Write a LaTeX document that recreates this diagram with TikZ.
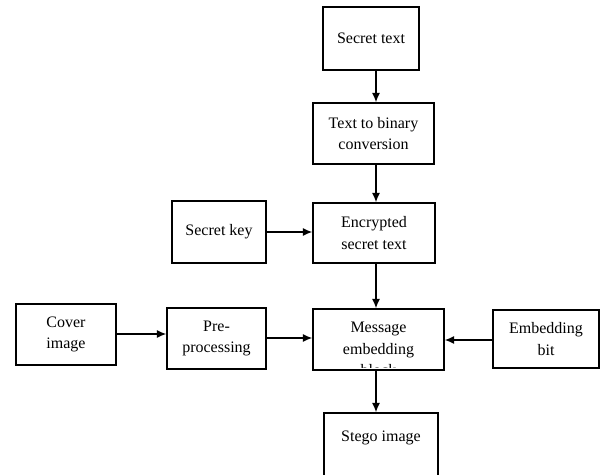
\documentclass[tikz,border=0pt]{standalone}
\usepackage{fontspec}
\setmainfont{Liberation Serif}
\usetikzlibrary{arrows.meta}
\begin{document}
\begin{tikzpicture}[x=0.75pt,y=-0.75pt,
  box/.style={draw,line width=1.2pt,inner sep=0pt,align=center,font=\fontsize{12}{16}\selectfont},
  lbl/.style={inner sep=0pt,align=center,font=\fontsize{12}{16}\selectfont},
  conn/.style={line width=0.9pt,-{Latex[length=7pt,width=6pt]}}]
\useasboundingbox (0,0) rectangle (602,474);
\begin{scope}
\clip (0,0) rectangle (602,474);
\node[box,minimum width=96*0.75pt,minimum height=63*0.75pt] (st) at (371,38.5) {Secret text};
\node[box,minimum width=121*0.75pt,minimum height=61*0.75pt] (tb) at (373.5,133.5) {Text to binary\\conversion};
\node[box,minimum width=94*0.75pt,minimum height=62*0.75pt] (sk) at (219,232) {Secret key};
\node[box,minimum width=122*0.75pt,minimum height=60*0.75pt] (en) at (374,233) {Encrypted\\secret text};
\node[box,minimum width=100*0.75pt,minimum height=61*0.75pt] (cv) at (66,334.5) {Cover\\image};
\node[box,minimum width=99*0.75pt,minimum height=61*0.75pt] (pp) at (216.5,338.5) {Pre-\\processing};
\node[draw,line width=1.2pt,inner sep=0pt,minimum width=131*0.75pt,minimum height=61*0.75pt] (me) at (378.5,339.5) {};
\begin{scope}
\clip (313,309) rectangle (444,367);
\node[lbl,anchor=north] (metext) at (378.5,322) {Message\\embedding\\block};
\end{scope}
\node[box,minimum width=106*0.75pt,minimum height=58*0.75pt] (eb) at (546,339) {Embedding\\bit};
\node[draw,line width=1.2pt,minimum width=114*0.75pt,minimum height=80*0.75pt] (sg) at (381,453) {};
\node[lbl] (sgtext) at (381,438) {Stego image};
\draw[conn] (st.south -| 376,0) -- (tb.north -| 376,0);
\draw[conn] (tb.south -| 376,0) -- (en.north -| 376,0);
\draw[conn] (sk.east |- 0,232) -- (en.west |- 0,232);
\draw[conn] (cv.east |- 0,334) -- (pp.west |- 0,334);
\draw[conn] (pp.east |- 0,338) -- (me.west |- 0,338);
\draw[conn] (eb.west |- 0,340) -- (me.east |- 0,340);
\draw[conn] (en.south -| 376,0) -- (me.north -| 376,0);
\draw[conn] (me.south -| 376,0) -- (sg.north -| 376,0);
\end{scope}
\end{tikzpicture}
\end{document}
